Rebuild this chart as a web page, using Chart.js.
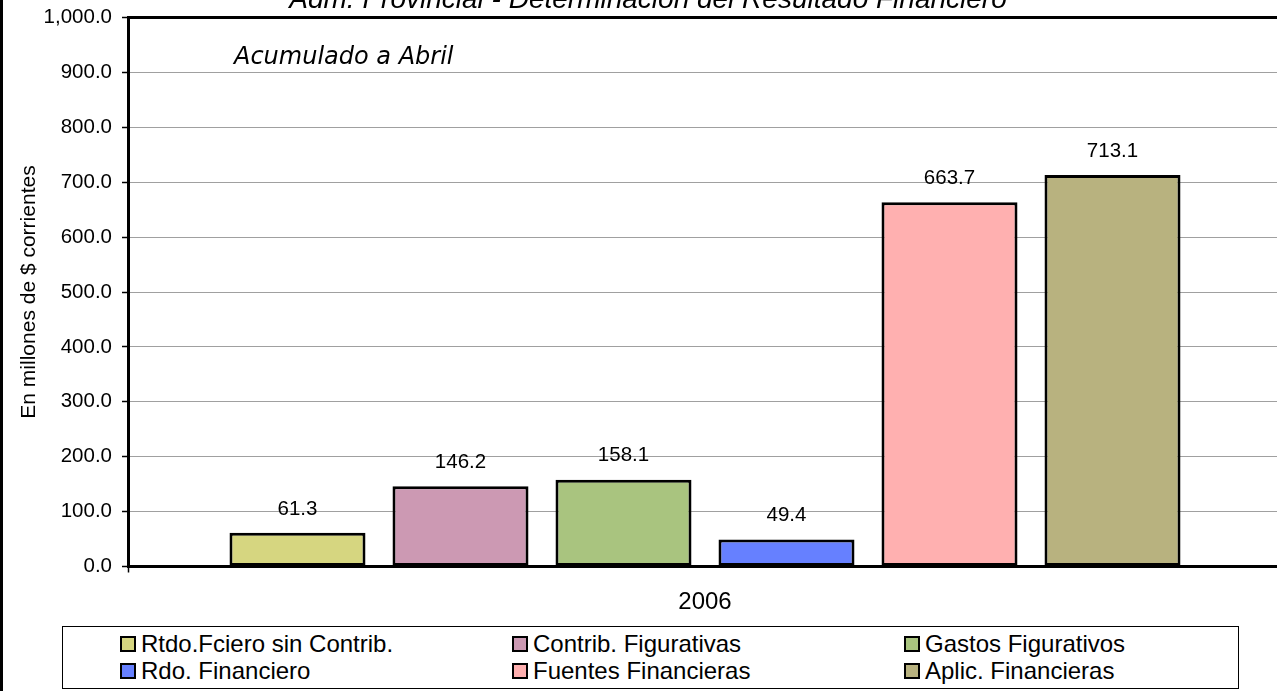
<!DOCTYPE html>
<html><head><meta charset="utf-8">
<script src="https://cdn.jsdelivr.net/npm/chart.js@4.4.1/dist/chart.umd.min.js"></script>
<style>
html,body{margin:0;padding:0;background:#fff;overflow:hidden;width:1277px;height:691px;}
#wrap{position:relative;width:1277px;height:691px;overflow:hidden;background:#fff;}
#c{position:absolute;left:0;top:0;}
#edge{position:absolute;left:0;top:0;width:3px;height:691px;background:#000;}
#legend{position:absolute;left:62px;top:626px;width:1175px;height:61px;border:1px solid #000;box-sizing:content-box;font-family:'Liberation Sans',Arial,sans-serif;font-size:24px;color:#000;background:#fff;}
.item{position:absolute;display:flex;align-items:center;white-space:nowrap;height:26px;line-height:26px;}
.sw{width:16px;height:16px;box-sizing:border-box;border:2.5px solid #000;margin-right:5px;flex:none;}
</style>
</head><body>
<div id="wrap">
<canvas id="c" width="1290" height="691"></canvas>
<div id="edge"></div>
<div id="legend"></div>
</div>
<script>
// ---- data ----
const chartTitle = 'Adm. Provincial - Determinación del Resultado Financiero';
const subTitle = 'Acumulado a Abril';
const categories = ['2006'];
const seriesNames = ['Rtdo.Fciero sin Contrib.', 'Contrib. Figurativas', 'Gastos Figurativos', 'Rdo. Financiero', 'Fuentes Financieras', 'Aplic. Financieras'];
const seriesValues = [61.3, 146.2, 158.1, 49.4, 663.7, 713.1];
const seriesColors = ['#D6D680', '#CC99B3', '#A9C47F', '#6680FF', '#FFB0B0', '#B8B27F'];
const yTickLabels = ['0.0','100.0','200.0','300.0','400.0','500.0','600.0','700.0','800.0','900.0','1,000.0'];
const yAxisTitle = 'En millones de $ corrientes';

const FONT = "'Liberation Sans', Arial, sans-serif";

const valueLabels = {
  id: 'valueLabels',
  afterDatasetsDraw(chart) {
    const ctx = chart.ctx;
    ctx.save();
    ctx.font = '20.5px ' + FONT;
    ctx.fillStyle = '#000';
    ctx.textAlign = 'center';
    ctx.textBaseline = 'middle';
    chart.data.datasets.forEach((ds, i) => {
      const meta = chart.getDatasetMeta(i);
      meta.data.forEach((bar, j) => {
        ctx.fillText(ds.data[j].toFixed(1), bar.x, bar.y - 24);
      });
    });
    ctx.restore();
  }
};

const textOverlay = {
  id: 'textOverlay',
  afterDraw(chart) {
    const ctx = chart.ctx;
    ctx.save();
    ctx.fillStyle = '#000';
    ctx.textBaseline = 'alphabetic';
    ctx.font = 'italic 28px ' + FONT;
    ctx.textAlign = 'center';
    ctx.fillText(chartTitle, 648, 8);
    ctx.font = "italic 24px 'Comic Sans MS', 'DejaVu Sans', sans-serif";
    ctx.textAlign = 'left';
    ctx.fillText(subTitle, 234, 64);
    ctx.restore();
  }
};

const datasets = seriesNames.map((name, i) => ({
  label: name,
  data: [seriesValues[i]],
  backgroundColor: seriesColors[i],
  borderColor: '#000',
  borderWidth: 3,
  borderSkipped: false,
  categoryPercentage: 0.8475,
  barPercentage: 0.8344
}));

new Chart(document.getElementById('c'), {
  type: 'bar',
  data: { labels: categories, datasets },
  plugins: [valueLabels, textOverlay],
  options: {
    responsive: false,
    animation: false,
    events: [],
    layout: { padding: { left: 0, right: 8, top: 17.5, bottom: 0 } },
    plugins: { legend: { display: false }, tooltip: { enabled: false }, title: { display: false } },
    scales: {
      x: {
        grid: { display: true, drawOnChartArea: false, drawTicks: true, tickLength: 6, tickColor: '#000', tickWidth: 1.5, offset: true },
        border: { display: true, color: '#000', width: 3 },
        ticks: { color: '#000', font: { family: FONT, size: 24 }, padding: 15 },
        afterFit(scale) { scale.height = 124.5; scale.paddingLeft = 0; scale.paddingRight = 0; }
      },
      y: {
        min: 0, max: 1000,
        grid: {
          color: c => (c.tick && c.tick.value === 1000) ? '#000' : '#a0a0a0',
          lineWidth: c => (c.tick && c.tick.value === 1000) ? 3 : 1,
          tickColor: '#000', tickWidth: 1.5, tickLength: 6, drawTicks: true
        },
        border: { display: true, color: '#000', width: 3 },
        ticks: {
          stepSize: 100, color: '#000', padding: 10,
          font: { family: FONT, size: 20.5 },
          callback: (v, idx) => yTickLabels[idx]
        },
        title: { display: true, text: yAxisTitle, color: '#000', font: { family: FONT, size: 21 }, padding: { top: 17, bottom: 0 } },
        afterFit(scale) { scale.width = 128; scale.paddingTop = 0; scale.paddingBottom = 0; }
      }
    }
  }
});

// legend (3 columns x 2 rows) built from the series arrays
const legend = document.getElementById('legend');
const colLeft = [57, 449, 841];
const rowTop = [4, 31];
seriesNames.forEach((name, i) => {
  const it = document.createElement('div');
  it.className = 'item';
  it.style.left = colLeft[i % 3] + 'px';
  it.style.top = rowTop[Math.floor(i / 3)] + 'px';
  const sw = document.createElement('span');
  sw.className = 'sw';
  sw.style.background = seriesColors[i];
  const tx = document.createElement('span');
  tx.textContent = name;
  it.appendChild(sw); it.appendChild(tx);
  legend.appendChild(it);
});
</script>
</body></html>
